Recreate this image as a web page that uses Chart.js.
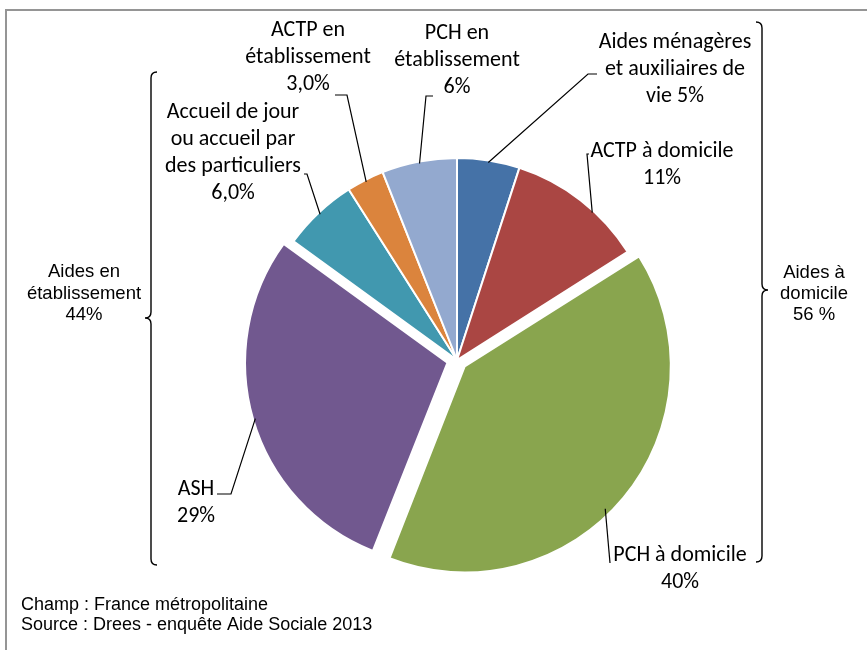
<!DOCTYPE html>
<html>
<head>
<meta charset="utf-8">
<script src="https://cdn.jsdelivr.net/npm/chart.js@4/dist/chart.umd.min.js"></script>
<style>
  body { margin: 0; background: #fff; }
  .frame { position: absolute; left: 5px; top: 9px; width: 900px; height: 700px;
           border-left: 2px solid #959595; border-top: 2px solid #959595; }
  #pie { position: absolute; left: 0; top: 0; }
</style>
</head>
<body>
<div class="frame"></div>
<canvas id="pie" width="867" height="650"></canvas>
<script>
// données
const categories = ["Aides ménagères et auxiliaires de vie", "ACTP à domicile", "PCH à domicile",
  "ASH", "Accueil de jour ou accueil par des particuliers", "ACTP en établissement", "PCH en établissement"];
const shares = [5, 11, 40, 29, 6, 3, 6];
const shareLabels = ["5%", "11%", "40%", "29%", "6,0%", "3,0%", "6%"];
const groups = ["Aides à domicile", "Aides en établissement"];
const groupShares = ["56 %", "44%"];
const footnotes = ["Champ : France métropolitaine", "Source : Drees - enquête Aide Sociale 2013"];

const colors = ["#4572A7", "#AA4643", "#89A54E", "#71588F", "#4198AF", "#DB843D", "#93A9CF"];
// Chart.js decale de offset/4 px
const explode = [0, 0, 40, 40, 0, 0, 0];

// texte des étiquettes, ligne par ligne
const labelLines = [
  ["Aides ménagères", "et auxiliaires de", "vie " + shareLabels[0]],
  ["ACTP à domicile", shareLabels[1]],
  ["PCH à domicile", shareLabels[2]],
  ["ASH", shareLabels[3]],
  ["Accueil de jour", "ou accueil par", "des particuliers", shareLabels[4]],
  ["ACTP en", "établissement", shareLabels[5]],
  ["PCH en", "établissement", shareLabels[6]]
];
// position du texte (centre, 1re ligne), bout du trait de rappel,
// et point d'attache le long de l'arc (0 = début, 1 = fin)
const labelPos = [
  {x: 675, y: 42, lx: 588, ly: 74, tx: 597, at: 0.5},
  {x: 662, y: 151, lx: 587, ly: 154, tx: 589, at: 0.62},
  {x: 680, y: 555, lx: 610, ly: 563, tx: 610, at: 0.54},
  {x: 196, y: 489, lx: 231, ly: 494, tx: 217, at: 0.5},
  {x: 233, y: 112, lx: 307, ly: 174, tx: 304, at: 0.5},
  {x: 308, y: 30, lx: 347, ly: 95, tx: 335, at: 0.5},
  {x: 457, y: 33, lx: 426, ly: 96, tx: 433, at: 0.5}
];

const LABEL_FONT = '22px Carlito, Lato, sans-serif';
const GROUP_FONT = '18.5px "Liberation Sans", Arial, sans-serif';

function brace(ctx, x, top, bottom, tipY, dir) {
  // accolade verticale, dir = -1 pointe vers la gauche, 1 vers la droite
  const c = 6;
  ctx.beginPath();
  ctx.moveTo(x - dir * c, top);
  ctx.quadraticCurveTo(x, top, x, top + c);
  ctx.lineTo(x, tipY - c);
  ctx.quadraticCurveTo(x, tipY, x + dir * c, tipY);
  ctx.quadraticCurveTo(x, tipY, x, tipY + c);
  ctx.lineTo(x, bottom - c);
  ctx.quadraticCurveTo(x, bottom, x - dir * c, bottom);
  ctx.stroke();
}

const labelsPlugin = {
  id: "labels",
  afterDraw(chart) {
    const ctx = chart.ctx;
    const arcs = chart.getDatasetMeta(0).data;
    ctx.save();
    ctx.strokeStyle = "#000";
    ctx.lineWidth = 1.2;
    ctx.fillStyle = "#000";
    ctx.textAlign = "center";
    ctx.textBaseline = "middle";

    arcs.forEach((arc, i) => {
      const p = arc.getProps(["x", "y", "startAngle", "endAngle", "outerRadius"], true);
      const lp = labelPos[i];
      const mid = (p.startAngle + p.endAngle) / 2;
      const a = p.startAngle + (p.endAngle - p.startAngle) * lp.at;
      const off = explode[i] / 4;
      const cx = p.x + Math.cos(mid) * off;
      const cy = p.y + Math.sin(mid) * off;
      const r = p.outerRadius - 2;
      ctx.beginPath();
      ctx.moveTo(cx + Math.cos(a) * r, cy + Math.sin(a) * r);
      ctx.lineTo(lp.lx, lp.ly);
      ctx.lineTo(lp.tx, lp.ly);
      ctx.stroke();

      ctx.font = LABEL_FONT;
      labelLines[i].forEach((t, k) => ctx.fillText(t, lp.x, lp.y + k * 27));
    });

    // accolades des regroupements
    ctx.lineWidth = 1.4;
    brace(ctx, 762, 22, 562, 290, 1);
    brace(ctx, 151, 72, 565, 318, -1);

    ctx.font = GROUP_FONT;
    const dom = ["Aides à", "domicile", groupShares[0]];
    dom.forEach((t, k) => ctx.fillText(t, 814, 273 + k * 21));
    const eta = ["Aides en", "établissement", groupShares[1]];
    eta.forEach((t, k) => ctx.fillText(t, 84, 272 + k * 21.5));

    ctx.textAlign = "left";
    ctx.font = '18px "Liberation Sans", Arial, sans-serif';
    footnotes.forEach((t, k) => ctx.fillText(t, 21, 605 + k * 20.5));
    ctx.restore();
  }
};

new Chart(document.getElementById("pie"), {
  type: "pie",
  data: {
    labels: categories,
    datasets: [{
      data: shares,
      backgroundColor: colors,
      borderColor: "#ffffff",
      borderWidth: 2,
      offset: explode
    }]
  },
  options: {
    responsive: false,
    animation: false,
    radius: 202,
    layout: { padding: { left: 47, right: 0, top: 70, bottom: 0 } },
    plugins: {
      legend: { display: false },
      tooltip: { enabled: false }
    }
  },
  plugins: [labelsPlugin]
});
</script>
</body>
</html>
